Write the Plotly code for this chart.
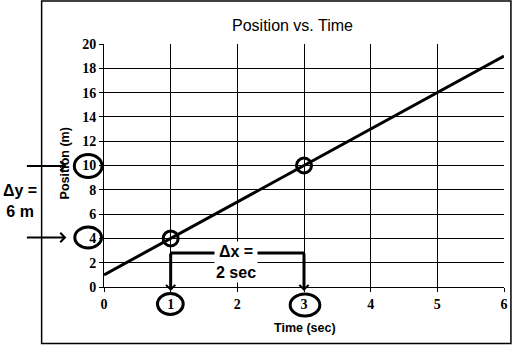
import plotly.graph_objects as go

# ---- data ----
time_s = [0, 1, 2, 3, 4, 5, 6]
position_m = [1, 4, 7, 10, 13, 16, 19]
marked_t = [1, 3]
marked_p = [4, 10]
x_ticks = [0, 1, 2, 3, 4, 5, 6]
y_ticks = [0, 2, 4, 6, 8, 10, 12, 14, 16, 18, 20]
x_grid = [1, 2, 3, 4, 5]
y_grid = [2, 4, 6, 8, 10, 12, 14, 16, 18]

W, H = 518, 345
L, R, T, B = 104, 10, 44, 58
PW, PH = W - L - R, H - T - B


def px(x):
    return (x - L) / PW


def py(y):
    return (H - B - y) / PH


SANS = "Liberation Sans, Arial, sans-serif"
SERIF = "Liberation Serif, Times New Roman, serif"

fig = go.Figure()
fig.add_trace(go.Scatter(x=time_s, y=position_m, mode="lines",
                         line=dict(color="black", width=3),
                         hoverinfo="skip", showlegend=False))
fig.add_trace(go.Scatter(x=marked_t, y=marked_p, mode="markers",
                         marker=dict(symbol="circle-open", size=15, color="black",
                                     line=dict(width=3, color="black")),
                         hoverinfo="skip", showlegend=False))
# invisible trace to host the grid axes
fig.add_trace(go.Scatter(x=[None], y=[None], xaxis="x2", yaxis="y2",
                         mode="markers", showlegend=False, hoverinfo="skip"))

axis_common = dict(showline=True, linecolor="black", linewidth=1, ticks="outside",
                   ticklen=4, tickcolor="black", tickwidth=1, showgrid=False,
                   zeroline=False, fixedrange=True,
                   tickfont=dict(family=SERIF, size=14, color="black", weight="bold"))

fig.update_layout(
    width=W, height=H,
    margin=dict(l=L, r=R, t=T, b=B),
    paper_bgcolor="white", plot_bgcolor="white",
    showlegend=False,
    xaxis=dict(range=[0, 6], tickvals=x_ticks, ticktext=[str(v) for v in x_ticks],
               **axis_common),
    yaxis=dict(range=[0, 20], tickvals=y_ticks, ticktext=[str(v) for v in y_ticks],
               **axis_common),
    xaxis2=dict(range=[0, 6], overlaying="x", anchor="y2", tickvals=x_grid,
                showgrid=True, gridcolor="black", gridwidth=1, showticklabels=False,
                ticks="", showline=False, zeroline=False, fixedrange=True),
    yaxis2=dict(range=[0, 20], overlaying="y", anchor="x2", tickvals=y_grid,
                showgrid=True, gridcolor="black", gridwidth=1, showticklabels=False,
                ticks="", showline=False, zeroline=False, fixedrange=True),
)

shapes = []
# outer frame
shapes.append(dict(type="rect", xref="paper", yref="paper",
                   x0=px(41), x1=px(515), y0=py(343.5), y1=py(1),
                   line=dict(color="black", width=1.5)))
# circles around tick labels
for cx, cy, w, h in [(88, 166, 28, 23), (88, 237.5, 27, 21),
                     (171, 304, 26, 21), (307, 305, 30, 22)]:
    shapes.append(dict(type="circle", xref="paper", yref="paper",
                       x0=px(cx - w / 2), x1=px(cx + w / 2),
                       y0=py(cy + h / 2), y1=py(cy - h / 2),
                       line=dict(color="black", width=3)))
# horizontal part of the delta-x bracket
shapes.append(dict(type="line", xref="x", yref="paper",
                   x0=marked_t[0], x1=marked_t[1], y0=py(253), y1=py(253),
                   line=dict(color="black", width=3)))
fig.update_layout(shapes=shapes)


def label(text, x, y, size, bold=True, **kw):
    f = dict(family=SANS, size=size, color="black")
    if bold:
        f["weight"] = "bold"
    return dict(text=text, xref="paper", yref="paper", x=px(x), y=py(y),
                xanchor="center", yanchor="middle", showarrow=False,
                font=f, **kw)


ann = []
ann.append(label("Position vs. Time", 294, 25, 16, bold=False))
ann.append(label("Position (m)", 65, 163, 12.5, textangle=-90))
ann.append(label("Time (sec)", 307, 328, 12.5))
ann.append(label("Δy =<br>6 m", 19, 201, 16, align="center"))
# arrows pointing at the y tick labels
for yy in [166, 237.5]:
    ann.append(dict(text="", xref="paper", yref="paper", x=px(66), y=py(yy),
                    axref="pixel", ayref="pixel", ax=-41, ay=0,
                    showarrow=True, arrowhead=4, arrowwidth=2, arrowsize=0.9,
                    arrowcolor="black"))
# arrows down to the x tick labels
for tt in marked_t:
    ann.append(dict(text="", xref="x", yref="paper", x=tt, y=py(291),
                    axref="pixel", ayref="pixel", ax=0, ay=-39,
                    showarrow=True, arrowhead=4, arrowwidth=3, arrowsize=0.6,
                    arrowcolor="black"))
ann.append(label("Δx =<br>2 sec", 237, 262, 16, align="center",
                 bgcolor="white", borderpad=1))
fig.update_layout(annotations=ann)

fig.write_html("out.html")
